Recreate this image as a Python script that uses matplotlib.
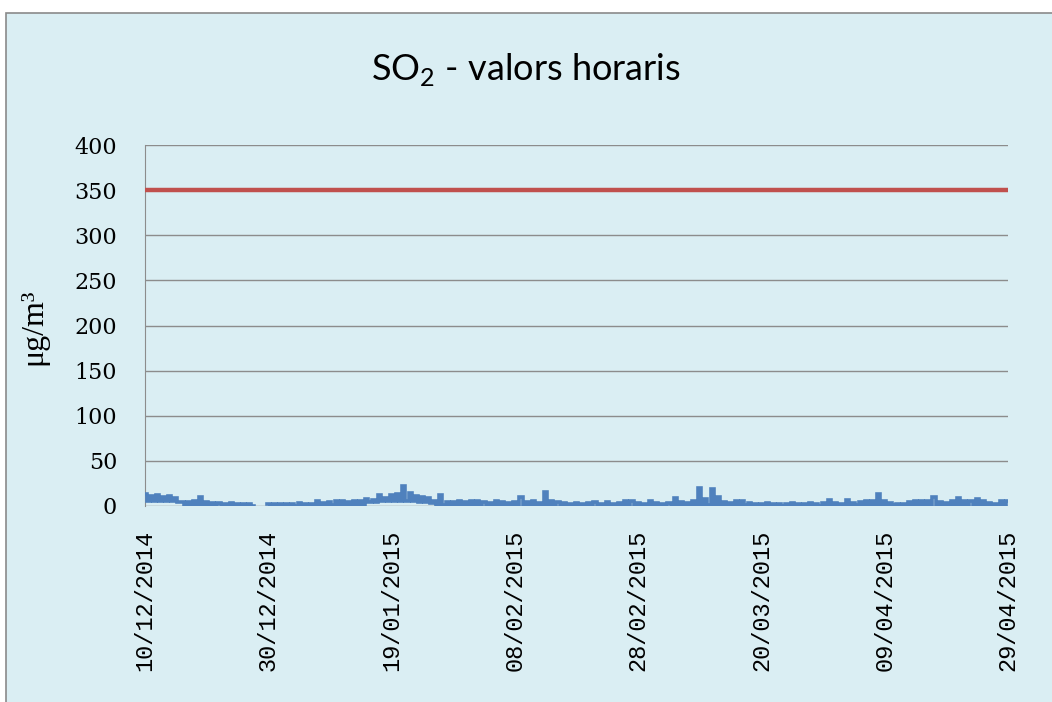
"""SO2 hourly values, Dec 2014 - Apr 2015."""

import numpy as np
import matplotlib
matplotlib.use("Agg")
import matplotlib.pyplot as plt
from matplotlib.patches import Rectangle

BG = "#DAEEF3"
GRID = "#8C8C8C"
BLUE = "#4F81BD"
RED = "#C0504D"

# days counted from 10/12/2014
tick_days = [0, 20, 40, 60, 80, 100, 120, 140]
tick_labels = ["10/12/2014", "30/12/2014", "19/01/2015", "08/02/2015",
               "28/02/2015", "20/03/2015", "09/04/2015", "29/04/2015"]
y_ticks = [0, 50, 100, 150, 200, 250, 300, 350, 400]
limit_value = 350

# daily peak and low of the hourly series (nan = no data)
nan = np.nan
daily_max = [
    13, 11, 12, 10, 11, 9, 4, 4, 5, 10,
    4, 3, 3, 2, 3, 2, 2, 2, nan, nan,
    2, 2, 2, 2, 2, 3, 2, 2, 5, 3,
    4, 6, 5, 4, 5, 6, 8, 7, 12, 9,
    12, 13, 22, 14, 11, 10, 9, 6, 12, 4,
    4, 6, 4, 5, 6, 4, 3, 5, 4, 3,
    4, 10, 4, 5, 3, 16, 6, 4, 3, 2,
    3, 2, 3, 4, 2, 4, 2, 3, 5, 5,
    3, 2, 5, 3, 2, 3, 9, 4, 3, 6,
    20, 8, 19, 10, 4, 3, 5, 5, 3, 2,
    2, 3, 2, 2, 2, 3, 2, 2, 3, 2,
    3, 7, 3, 2, 7, 3, 4, 5, 6, 13,
    5, 3, 2, 2, 4, 6, 5, 6, 10, 4,
    3, 5, 9, 6, 5, 8, 5, 3, 2, 5,
    6,
]
daily_min = [
    5, 6, 5, 6, 5, 4, 1, 1, 1, 1,
    1, 1, 1, 0, 1, 0, 0, 0, nan, nan,
    0, 0, 0, 0, 0, 1, 0, 0, 1, 1,
    1, 1, 1, 1, 1, 1, 4, 4, 5, 5,
    6, 6, 5, 5, 4, 4, 3, 1, 1, 1,
    1, 1, 1, 1, 1, 1, 1, 1, 1, 1,
    1, 1, 1, 1, 1, 1, 1, 1, 0, 0,
    0, 0, 1, 1, 0, 1, 0, 1, 1, 1,
    1, 0, 1, 1, 0, 1, 1, 1, 1, 1,
    1, 1, 1, 1, 1, 1, 1, 1, 1, 0,
    0, 1, 0, 0, 0, 1, 0, 0, 1, 0,
    1, 1, 1, 0, 1, 1, 1, 1, 1, 1,
    1, 1, 0, 0, 1, 1, 1, 1, 1, 1,
    1, 1, 1, 1, 1, 1, 1, 1, 0, 1,
    1,
]


def build_series(maxs, mins):
    # alternate peak / low within each day to mimic the hourly trace
    xs, ys = [], []
    for day, (hi, lo) in enumerate(zip(maxs, mins)):
        xs += [day, day + 0.5]
        ys += [hi, lo]
    return np.array(xs), np.array(ys, dtype=float)


def main():
    plt.rcParams["mathtext.fontset"] = "custom"
    plt.rcParams["mathtext.rm"] = "Lato"

    fig = plt.figure(figsize=(10.52, 7.02), dpi=100, facecolor="white")
    fig.patches.append(Rectangle((6 / 1052, -0.01), 1.1, 1 - 13 / 702 + 0.01,
                                 transform=fig.transFigure, facecolor=BG,
                                 edgecolor="#8A8A8A", linewidth=1.2, zorder=-5))

    ax = fig.add_axes([145 / 1052, 1 - 506 / 702, 863 / 1052, 361 / 702])
    ax.set_facecolor("none")

    x, y = build_series(daily_max, daily_min)
    ax.plot(x, y, color=BLUE, linewidth=2.6, drawstyle="steps-mid",
            solid_joinstyle="miter", zorder=3)
    ax.axhline(limit_value, color=RED, linewidth=3.2, zorder=3)

    ax.set_xlim(tick_days[0], tick_days[-1])
    ax.set_ylim(0, 400)
    ax.set_yticks(y_ticks)
    ax.set_yticklabels([str(v) for v in y_ticks], family="DejaVu Serif", fontsize=16)
    ax.set_xticks(tick_days)
    ax.set_xticklabels(tick_labels, rotation=90, family="Liberation Mono", fontsize=17)
    ax.tick_params(axis="y", length=0, pad=20)
    ax.tick_params(axis="x", length=0, pad=17)

    ax.grid(axis="y", color=GRID, linewidth=1)
    ax.set_axisbelow(True)
    for side in ["top", "right", "bottom"]:
        ax.spines[side].set_visible(False)
    ax.spines["left"].set_color(GRID)

    ax.set_ylabel("μg/m³", family="Liberation Serif", fontsize=23)
    ax.yaxis.set_label_coords(-0.112, 0.496)

    fig.text(0.5, 1 - 70 / 702, r"SO$_2$ - valors horaris", ha="center", va="center",
             family="Lato", fontsize=26)

    fig.savefig("out.png", dpi=100, facecolor=fig.get_facecolor())


if __name__ == "__main__":
    main()
